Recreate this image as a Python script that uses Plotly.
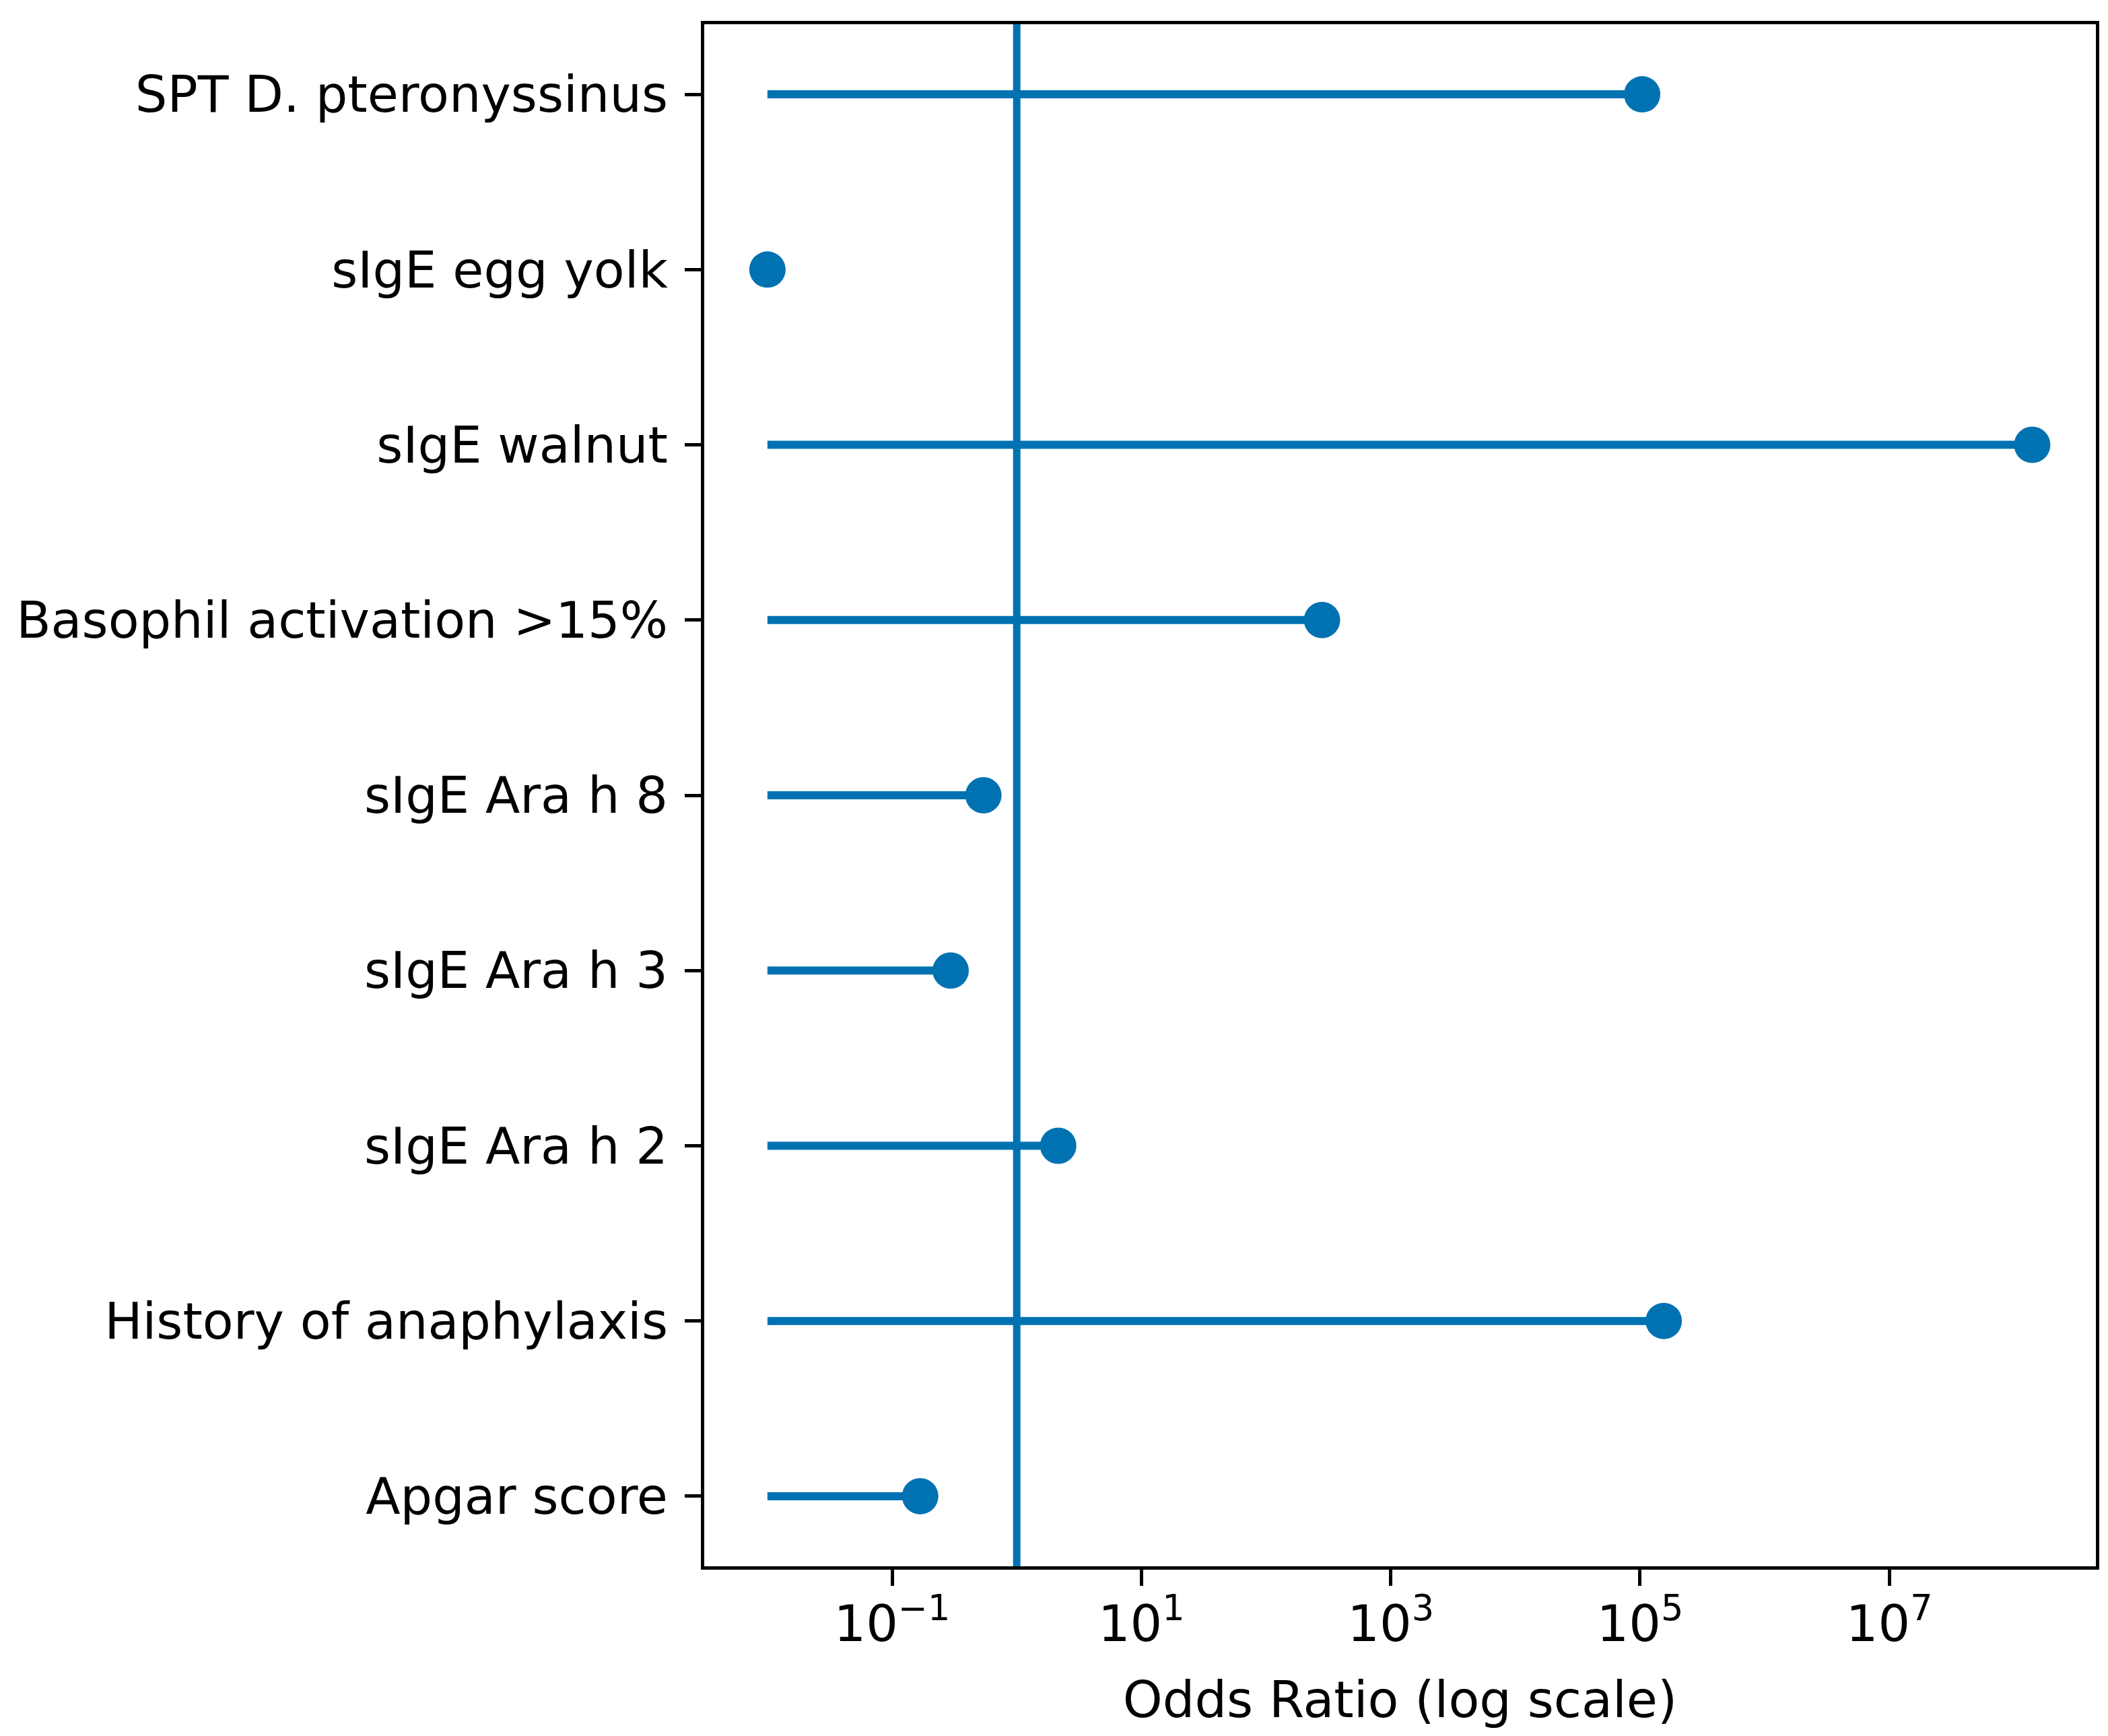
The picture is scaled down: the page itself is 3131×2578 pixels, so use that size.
import plotly.graph_objects as go

# predictors, bottom row first
predictors = [
    "Apgar score",
    "History of anaphylaxis",
    "sIgE Ara h 2",
    "sIgE Ara h 3",
    "sIgE Ara h 8",
    "Basophil activation >15%",
    "sIgE walnut",
    "sIgE egg yolk",
    "SPT D. pteronyssinus",
]
odds_ratio = [0.168, 1.55e5, 2.15, 0.295, 0.54, 281, 1.4e8, 0.01, 1.04e5]
line_start = 0.01
ref_or = 1

tick_vals = [1e-1, 1e1, 1e3, 1e5, 1e7]
tick_text = ["10<sup>\u22121</sup>", "10<sup>1</sup>", "10<sup>3</sup>",
             "10<sup>5</sup>", "10<sup>7</sup>"]

blue = "#0072B2"
font = dict(family="DejaVu Sans", size=75, color="black")

# stems from line_start out to each odds ratio
xs, ys = [], []
for name, v in zip(predictors, odds_ratio):
    xs += [line_start, v, None]
    ys += [name, name, None]

fig = go.Figure()
fig.add_trace(go.Scatter(x=xs, y=ys, mode="lines",
                         line=dict(color=blue, width=12), showlegend=False))
# reference line at OR = 1, spanning the full height (hidden overlay axis)
fig.add_trace(go.Scatter(x=[ref_or, ref_or], y=[0, 1], yaxis="y2", mode="lines",
                         line=dict(color=blue, width=11), showlegend=False))
fig.add_trace(go.Scatter(x=odds_ratio, y=predictors, mode="markers",
                         marker=dict(color=blue, size=54), showlegend=False))

# page body has an 8px margin, so shift everything back by that much
fig.update_layout(
    width=3123, height=2570,
    margin=dict(l=1038, r=18, t=28, b=252),
    plot_bgcolor="white", paper_bgcolor="white",
    font=font,
    xaxis=dict(
        type="log", range=[-2.507, 8.657], automargin=False,
        tickvals=tick_vals, ticktext=tick_text,
        ticks="outside", ticklen=24, tickwidth=5, tickcolor="black",
        ticklabelstandoff=-8,
        showline=True, linewidth=5, linecolor="black", mirror=True,
        showgrid=False, zeroline=False,
        title=dict(text="Odds Ratio (log scale)", standoff=45, font=font),
    ),
    yaxis=dict(
        type="category", categoryorder="array", categoryarray=predictors,
        range=[-0.4, 8.4], automargin=False,
        ticks="outside", ticklen=24, tickwidth=5, tickcolor="black",
        ticklabelstandoff=10,
        showline=True, linewidth=5, linecolor="black", mirror=True,
        showgrid=False, zeroline=False,
    ),
    yaxis2=dict(overlaying="y", type="linear", range=[0, 1], visible=False,
                fixedrange=True),
)

fig.write_html("out.html")
